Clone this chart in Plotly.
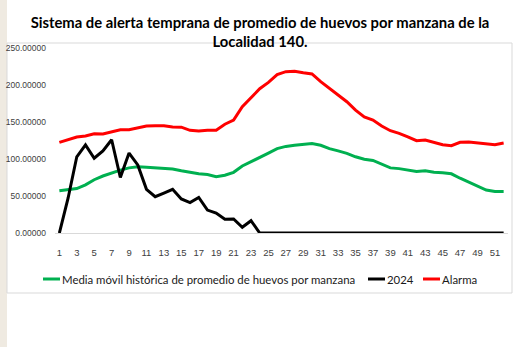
import plotly.graph_objects as go

# Semanas epidemiológicas 1..52
semanas = list(range(1, 53))

media_movil = [57, 58, 60, 65, 72, 77, 81.5, 85, 88, 89.6, 89, 88, 88, 86.5, 84, 81.5,
               80, 79, 76, 78, 82, 90.5, 96, 102, 108, 114, 117, 118.5, 120, 121,
               118.5, 114, 111, 107.7, 103, 99.6, 98, 93, 88, 87, 85, 83, 84, 82,
               81.5, 80, 74, 68.5, 62.6, 58, 56, 56]

valores_2024 = [0, 47, 103, 119, 101, 111, 126, 75, 108, 92, 59, 49, 54, 59, 46, 41,
                48, 31, 27, 18.5, 19, 7.7, 16.6] + [0] * 29

alarma = [122.5, 126.6, 129.7, 131, 134, 133.7, 136.5, 139.6, 139.6, 141.9, 144.6,
          145, 145, 143.2, 143, 138.7, 137.8, 139, 139, 147, 152.7, 170.7, 182.8,
          195, 203.6, 214, 218, 218.5, 216.6, 215, 204.5, 195.5, 186.5, 177.4, 166,
          157, 152.7, 144.6, 138.2, 134.7, 130, 124.7, 125.6, 122, 119.3, 118,
          122.5, 123, 121.6, 120.7, 119.3, 121.6]

series = [
    ("Media móvil histórica de promedio de huevos por manzana", media_movil, "#00B050"),
    ("2024", valores_2024, "#000000"),
    ("Alarma", alarma, "#FF0000"),
]

etiquetas_x = list(range(1, 53, 2))
ticks_y = [0, 50, 100, 150, 200, 250]

W, H = 513, 347
ML, MR, MT, MB = 55, 5, 48, 114
PW, PH = W - ML - MR, H - MT - MB


def px(x):
    return (x - ML) / PW


def py(y):
    return (H - MB - y) / PH


fig = go.Figure()
for nombre, valores, color in series:
    fig.add_trace(go.Scatter(x=semanas, y=valores, mode="lines", name=nombre,
                             line=dict(color=color, width=3), showlegend=False))

shapes = [
    # franja lateral
    dict(type="rect", xref="paper", yref="paper", x0=px(0), x1=px(7), y0=py(H), y1=py(0),
         fillcolor="#EFEAE1", line=dict(width=0), layer="below"),
    # marco del gráfico
    dict(type="rect", xref="paper", yref="paper", x0=px(7), x1=px(512), y0=py(293), y1=py(43),
         fillcolor="rgba(0,0,0,0)", line=dict(color="#D9D9D9", width=1), layer="below"),
]

# Leyenda en una sola fila bajo el eje
annotations = []
leyenda_x = [43, 368, 423]
for (nombre, _, color), x0 in zip(series, leyenda_x):
    shapes.append(dict(type="line", xref="paper", yref="paper",
                       x0=px(x0), x1=px(x0 + 17), y0=py(279), y1=py(279),
                       line=dict(color=color, width=3)))
    annotations.append(dict(text=nombre, xref="paper", yref="paper", x=px(x0 + 17), y=py(279),
                            xanchor="left", yanchor="middle", showarrow=False,
                            font=dict(family="Lato", size=11.4, color="#1a1a1a")))

fig.update_layout(
    width=W, height=H,
    margin=dict(l=ML, r=MR, t=MT, b=MB),
    paper_bgcolor="white", plot_bgcolor="white",
    shapes=shapes, annotations=annotations,
    title=dict(text="Sistema de alerta temprana de promedio de huevos por manzana de la<br>Localidad 140.",
               x=260 / W, xanchor="center", xref="container",
               y=1 - 28 / H, yanchor="middle", yref="container",
               font=dict(family="Lato", size=14.8, color="#000000", weight="bold")),
    showlegend=False,
    xaxis=dict(range=[0.5, 52.5], tickmode="array", tickvals=etiquetas_x,
               ticktext=[str(v) for v in etiquetas_x], showgrid=False, zeroline=False,
               showline=True, linecolor="#D9D9D9", linewidth=1, ticks="",
               ticklabelstandoff=11,
               tickfont=dict(family="Liberation Sans", size=9.5, color="#404040")),
    yaxis=dict(range=[0, 250], tickmode="array", tickvals=ticks_y,
               ticktext=[f"{v:.5f}" for v in ticks_y], showgrid=False, zeroline=False,
               showline=False, ticks="", ticklabelstandoff=8,
               tickfont=dict(family="Liberation Sans", size=8.5, color="#404040")),
)

fig.write_html("out.html")
